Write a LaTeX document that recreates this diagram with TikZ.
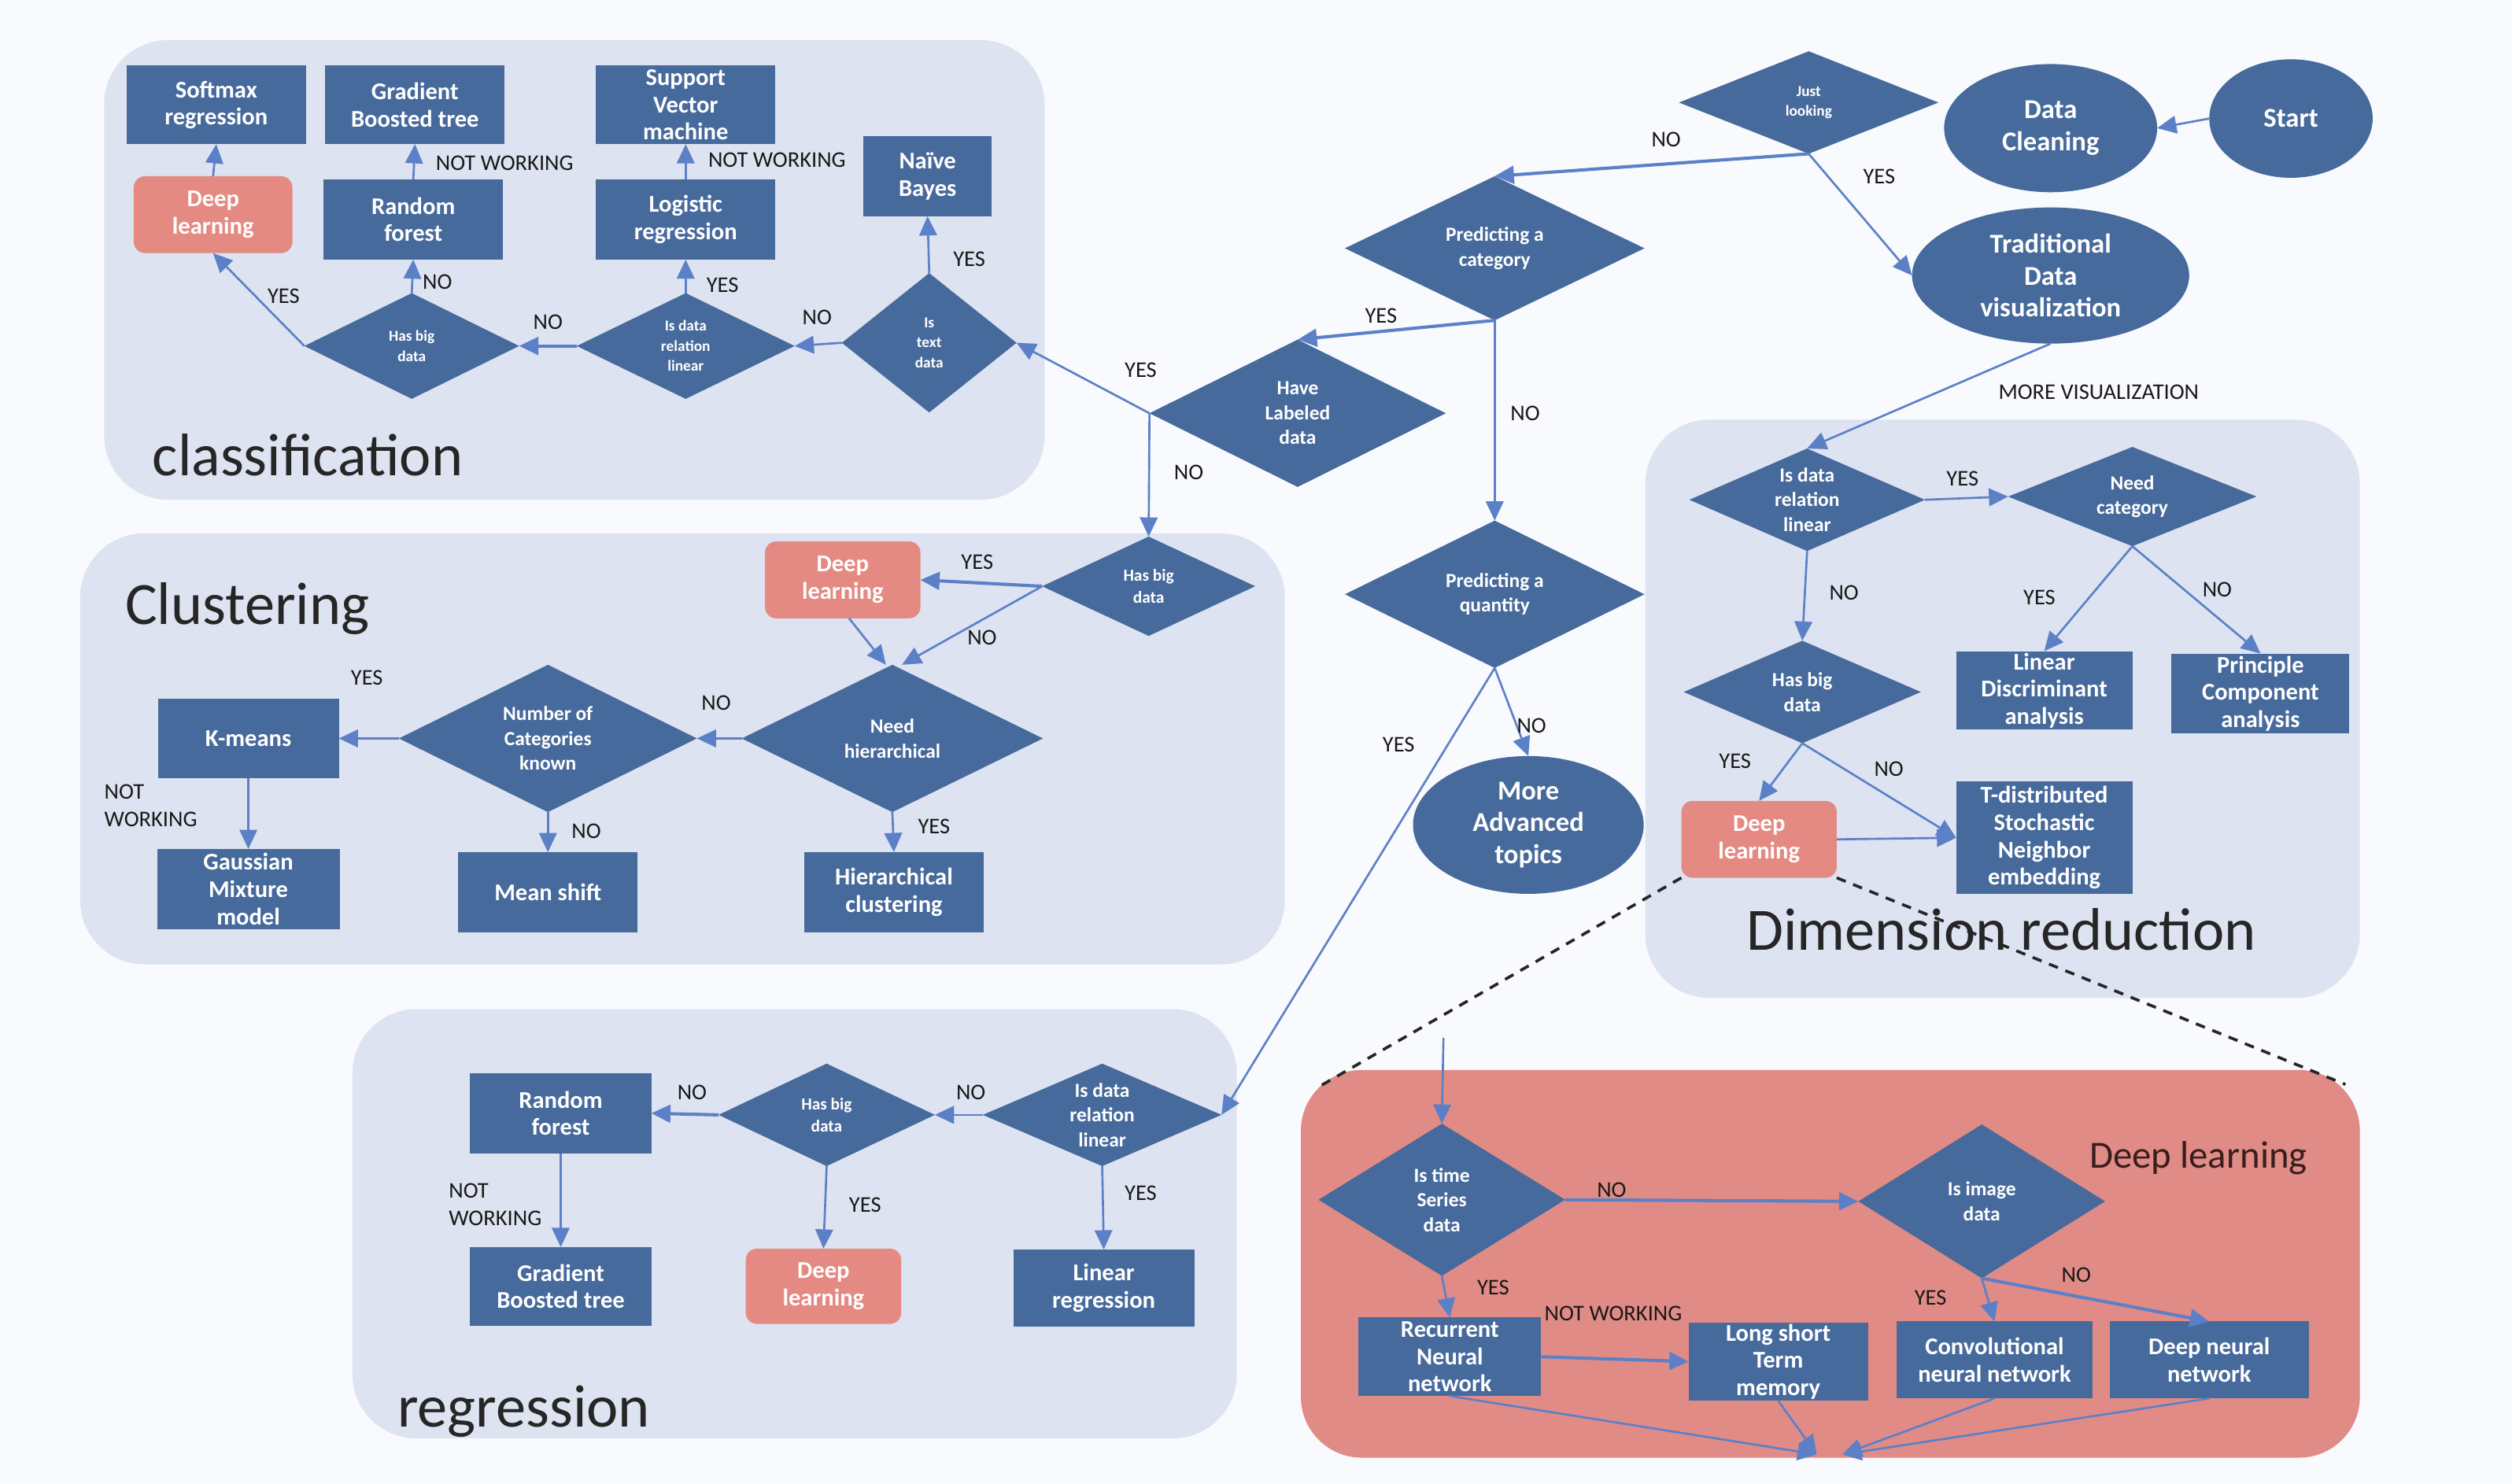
\documentclass[tikz,border=0pt]{standalone}
\usepackage{fontspec}
\setmainfont{Carlito}
\usetikzlibrary{shapes.geometric,arrows.meta}
\definecolor{nb}{RGB}{71,106,156}
\definecolor{sal}{RGB}{228,138,130}
\definecolor{salp}{RGB}{224,139,133}
\definecolor{pan}{RGB}{221,227,240}
\definecolor{bgc}{RGB}{248,250,253}
\definecolor{lnc}{RGB}{92,128,200}
\definecolor{lbc}{RGB}{25,25,25}
\definecolor{dlt}{RGB}{58,30,30}
\tikzset{
  bx/.style={rectangle, fill=nb, text=white, align=center, inner sep=0pt, outer sep=0pt, font=\fontsize{15}{17}\selectfont\bfseries},
  dlb/.style={bx, fill=sal, rounded corners=7pt},
  sz/.style 2 args={minimum width=#1pt, minimum height=#2pt},
  dm/.style={diamond, aspect=2, fill=nb, text=white, align=center, inner sep=0pt, outer sep=0pt, font=\fontsize{12.5}{15.5}\selectfont\bfseries},
  dms/.style={dm, font=\fontsize{9.5}{12.5}\selectfont\bfseries},
  dmm/.style={dm, font=\fontsize{10.5}{14}\selectfont\bfseries},
  el/.style={ellipse, fill=nb, text=white, align=center, inner sep=0pt, outer sep=0pt, font=\fontsize{17}{20}\selectfont\bfseries},
  lb/.style={text=lbc, font=\fontsize{14}{17}\selectfont, inner sep=0pt, align=left},
  ar/.style={draw=lnc, line width=1.3pt, -{Triangle[length=12pt,width=11pt]}},
  arw/.style={ar, line width=2pt},
  ttl/.style={text=black!85, font=\fontsize{37.5}{40}\selectfont, inner sep=0pt, anchor=base west},
  dsh/.style={draw=black!85, line width=1.8pt, dash pattern=on 6pt off 5pt},
}
\begin{document}
\begin{tikzpicture}[x=1pt,y=-1pt]
\useasboundingbox (0,0) rectangle (1568,926);
\fill[bgc] (0,0) rectangle (1568,926);
% panels
\fill[pan, rounded corners=40pt] (65,25) rectangle (652,312);
\fill[pan, rounded corners=40pt] (50,333) rectangle (802,602);
\fill[pan, rounded corners=40pt] (220,630) rectangle (772,898);
\fill[pan, rounded corners=40pt] (1027,262) rectangle (1473,623);
\fill[salp, rounded corners=38pt] (812,668) rectangle (1473,910);
% titles
\node[ttl] (tcls) at (95,297) {classification};
\node[ttl] (tclu) at (78,390) {Clustering};
\node[ttl] (treg) at (248,891) {regression};
\node[ttl] (tdim) at (1090,593) {Dimension reduction};
\node[ttl, font=\fontsize{24}{26}\selectfont, text=dlt] (tdl) at (1304,729) {Deep learning};
% classification
\node[bx,sz={112}{49}] (smx) at (135,65.5) {Softmax\\regression};
\node[bx,sz={112}{49}] (gbt1) at (259,65.5) {Gradient\\Boosted tree};
\node[bx,sz={112}{49}] (svm) at (428,65.5) {Support\\Vector\\machine};
\node[bx,sz={80}{50}] (nbay) at (579,110) {Naïve\\Bayes};
\node[dlb,sz={99}{48}] (cdl1) at (133,134) {Deep\\learning};
\node[bx,sz={112}{50}] (rf1) at (258,137) {Random\\forest};
\node[bx,sz={112}{50}] (logr) at (428,137) {Logistic\\regression};
\node[dms,sz={134}{66}] (chbd) at (257,216) {Has big\\data};
\node[dms,sz={136}{66}] (cidr) at (428,216) {Is data\\relation\\linear};
\node[dms,sz={109}{87}] (itd) at (580,214) {Is\\text\\data};
% main
\node[el,sz={102}{74}] (start) at (1430,74) {Start};
\node[el,sz={133}{80}] (dcl) at (1280,80) {Data\\Cleaning};
\node[dms,sz={162}{64}] (jl) at (1129,64) {Just\\looking};
\node[el,sz={173}{85}] (tdv) at (1280,172) {Traditional\\Data\\visualization};
\node[dm,sz={187}{90}] (pcat) at (933,155) {Predicting a\\category};
\node[dm,sz={185}{92}] (hld) at (810,258) {Have\\Labeled\\data};
\node[dm,sz={187}{92}] (pq) at (933,371) {Predicting a\\quantity};
\node[el,sz={144}{86}] (mat) at (954,515) {More\\Advanced\\topics};
% clustering
\node[dmm,sz={133}{62}] (khbd) at (717,366) {Has big\\data};
\node[dlb,sz={97}{48}] (kdl) at (526,362) {Deep\\learning};
\node[dm,sz={188}{92}] (nh) at (557,461) {Need\\hierarchical};
\node[dm,sz={186}{92}] (nck) at (342,461) {Number of\\Categories\\known};
\node[bx,sz={113}{50}] (km) at (155,461) {K-means};
\node[bx,sz={114}{50}] (gmm) at (155,555) {Gaussian\\Mixture\\model};
\node[bx,sz={112}{50}] (ms) at (342,557) {Mean shift};
\node[bx,sz={112}{50}] (hc) at (558,557) {Hierarchical\\clustering};
% regression
\node[dm,sz={149}{64}] (ridr) at (688,696) {Is data\\relation\\linear};
\node[dmm,sz={135}{64}] (rhbd) at (516,696) {Has big\\data};
\node[bx,sz={113}{50}] (rrf) at (350,695) {Random\\forest};
\node[bx,sz={113}{49}] (rgbt) at (350,803) {Gradient\\Boosted tree};
\node[dlb,sz={97}{47}] (rdl) at (514,803) {Deep\\learning};
\node[bx,sz={113}{48}] (lr) at (689,804) {Linear\\regression};
% dimension reduction
\node[dm,sz={147}{64}] (didr) at (1128,312) {Is data\\relation\\linear};
\node[dm,sz={155}{62}] (nc) at (1331,310) {Need\\category};
\node[bx,sz={110}{49}] (lda) at (1276,431) {Linear\\Discriminant\\analysis};
\node[bx,sz={111}{50}] (pca) at (1411,433) {Principle\\Component\\analysis};
\node[dm,sz={148}{64}] (dhbd) at (1125,432) {Has big\\data};
\node[dlb,sz={97}{48}] (ddl) at (1098,524) {Deep\\learning};
\node[bx,sz={110}{70}] (tsne) at (1276,523) {T-distributed\\Stochastic\\Neighbor\\embedding};
% deep learning panel
\node[dm,sz={154}{95}] (its) at (900,749) {Is time\\Series\\data};
\node[dm,sz={154}{96}] (iid) at (1237,750) {Is image\\data};
\node[bx,sz={114}{49}] (rnn) at (905,847) {Recurrent\\Neural\\network};
\node[bx,sz={112}{49}] (lstm) at (1110,850) {Long short\\Term\\memory};
\node[bx,sz={122}{48}] (cnn) at (1245,849) {Convolutional\\neural network};
\node[bx,sz={124}{48}] (dnn) at (1379,849) {Deep neural\\network};
\coordinate (dlin) at (901,648);
\coordinate (sA) at (1134,908);
\coordinate (sB) at (1150,908);
\coordinate (dlpTL) at (824,678);
\coordinate (dlpTR) at (1464,677);
% main arrows
\draw[ar] (start.west) -- (dcl.east);
\draw[arw] (jl.south) -- (pcat.north);
\draw[ar] (jl.south) -- (tdv.west);
\draw[ar] (tdv.south) -- (didr.north);
\draw[arw] (pcat.south) -- (hld.north);
\draw[ar] (pcat.south) -- (pq.north);
\draw[ar] (hld.west) -- (itd.east);
\draw[ar] (hld.west) -- (khbd.north);
\draw[ar] (pq.south) -- (mat.north);
\draw[ar] (pq.south) -- (ridr.east);
% classification arrows
\draw[ar] (itd.west) -- (cidr.east);
\draw[arw] (cidr.west) -- (chbd.east);
\draw[ar] (chbd.west) -- (cdl1.south);
\draw[ar] (chbd.north) -- (rf1.south);
\draw[ar] (cidr.north) -- (logr.south);
\draw[ar] (itd.north) -- (nbay.south);
\draw[ar] (rf1.north) -- (gbt1.south);
\draw[ar] (logr.north) -- (svm.south);
\draw[ar] (cdl1.north) -- (smx.south);
% clustering arrows
\draw[arw] (khbd.west) -- (kdl.east);
\draw[ar] (khbd.west) -- ([xshift=6pt]nh.north);
\draw[ar] ([xshift=4pt]kdl.south) -- ([xshift=-4pt]nh.north);
\draw[ar] (nh.west) -- (nck.east);
\draw[ar] (nh.south) -- (hc.north);
\draw[ar] (nck.west) -- (km.east);
\draw[ar] (nck.south) -- (ms.north);
\draw[ar] (km.south) -- (gmm.north);
% regression arrows
\draw[ar] (ridr.west) -- (rhbd.east);
\draw[ar] (ridr.south) -- (lr.north);
\draw[arw] (rhbd.west) -- (rrf.east);
\draw[ar] (rhbd.south) -- (rdl.north);
\draw[ar] (rrf.south) -- (rgbt.north);
% dimension arrows
\draw[ar] (didr.east) -- (nc.west);
\draw[ar] (nc.south) -- (lda.north);
\draw[ar] (nc.south) -- (pca.north);
\draw[ar] (didr.south) -- (dhbd.north);
\draw[ar] (dhbd.south) -- (ddl.north);
\draw[ar] (dhbd.south) -- (tsne.west);
\draw[ar] (ddl.east) -- (tsne.west);
% deep learning arrows
\draw[ar] (dlin) -- (its.north);
\draw[arw] (its.east) -- (iid.west);
\draw[ar] (its.south) -- (rnn.north);
\draw[ar] (iid.south) -- (cnn.north);
\draw[arw] (iid.south) -- (dnn.north);
\draw[arw] (rnn.east) -- (lstm.west);
\draw[ar] (rnn.south) -- (sA);
\draw[ar] (lstm.south) -- (sA);
\draw[ar] (cnn.south) -- (sB);
\draw[ar] (dnn.south) -- (sB);
% dashed zoom lines
\draw[dsh] (ddl.south west) -- (dlpTL);
\draw[dsh] (ddl.south east) -- (dlpTR);
% labels
\node[lb] (c1) at (315,102) {NOT WORKING};
\node[lb] (c2) at (485,100) {NOT WORKING};
\node[lb] (c3) at (273,176) {NO};
\node[lb] (c4) at (451,178) {YES};
\node[lb] (c5) at (605,162) {YES};
\node[lb] (c6) at (177,185) {YES};
\node[lb] (c7) at (342,201) {NO};
\node[lb] (c8) at (510,198) {NO};
\node[lb] (m1) at (1040,87) {NO};
\node[lb] (m2) at (1173,110) {YES};
\node[lb] (m3) at (862,197) {YES};
\node[lb] (m4) at (712,231) {YES};
\node[lb] (m5) at (742,295) {NO};
\node[lb] (m6) at (952,258) {NO};
\node[lb] (m7) at (1310,245) {MORE VISUALIZATION};
\node[lb] (m8) at (873,465) {YES};
\node[lb] (m9) at (956,453) {NO};
\node[lb] (k1) at (610,351) {YES};
\node[lb] (k2) at (613,398) {NO};
\node[lb] (k3) at (447,439) {NO};
\node[lb] (k4) at (583,516) {YES};
\node[lb] (k5) at (229,423) {YES};
\node[lb] (k6) at (366,519) {NO};
\node[lb, anchor=west] (k7) at (65,503) {NOT\\WORKING};
\node[lb] (r1) at (606,682) {NO};
\node[lb] (r2) at (432,682) {NO};
\node[lb] (r3) at (712,745) {YES};
\node[lb] (r4) at (540,752) {YES};
\node[lb, anchor=west] (r5) at (280,752) {NOT\\WORKING};
\node[lb] (d1) at (1225,299) {YES};
\node[lb] (d2) at (1151,370) {NO};
\node[lb] (d3) at (1273,373) {YES};
\node[lb] (d4) at (1384,368) {NO};
\node[lb] (d5) at (1083,475) {YES};
\node[lb] (d6) at (1179,480) {NO};
\node[lb] (e1) at (1006,743) {NO};
\node[lb] (e2) at (932,804) {YES};
\node[lb] (e3) at (1007,820) {NOT WORKING};
\node[lb] (e4) at (1205,810) {YES};
\node[lb] (e5) at (1296,796) {NO};
\end{tikzpicture}
\end{document}
